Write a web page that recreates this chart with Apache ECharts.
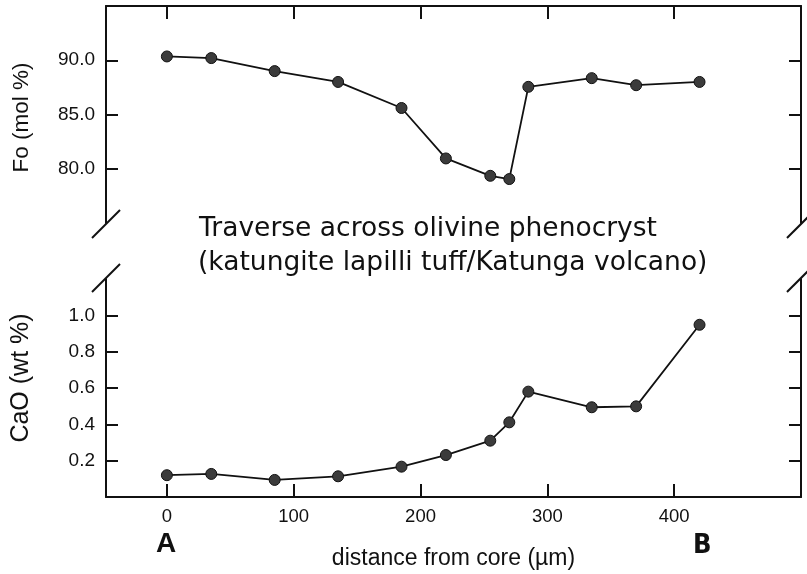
<!DOCTYPE html>
<html>
<head>
<meta charset="utf-8">
<script src="https://cdn.jsdelivr.net/npm/echarts@6/dist/echarts.min.js"></script>
<style>
  html, body { margin: 0; padding: 0; background: #fff; }
  #chart { width: 807px; height: 574px; }
</style>
</head>
<body>
<div id="chart"></div>
<script>
// distance along the traverse (µm), same points for both profiles
var distance = [0, 35, 85, 135, 185, 220, 255, 270, 285, 335, 370, 420];
// forsterite content (mol %)
var foValues = [90.35, 90.2, 89.0, 88.0, 85.6, 80.95, 79.35, 79.05, 87.55, 88.35, 87.7, 88.0];
// CaO content (wt %)
var caoValues = [0.12, 0.127, 0.094, 0.114, 0.167, 0.231, 0.31, 0.411, 0.58, 0.494, 0.499, 0.948];
// tick labels
var xTicks = [0, 100, 200, 300, 400];
var foTicks = [80, 85, 90];
var caoTicks = [0.2, 0.4, 0.6, 0.8, 1.0];

var ink = "#111";
var labelFont = "Liberation Sans";

function pairs(xs, ys) {
  return xs.map(function (x, i) { return [x, ys[i]]; });
}

var chart = echarts.init(document.getElementById("chart"), null, { renderer: "canvas" });

// x axis shared settings
function xAxisBase(gridIndex, pos, showLabel) {
  return {
    type: "value",
    gridIndex: gridIndex,
    position: pos,
    min: -48,
    max: 500,
    axisLine: { show: true, onZero: false, lineStyle: { color: ink, width: 2 } },
    axisTick: { show: true, inside: true, length: 13, customValues: xTicks, lineStyle: { color: ink, width: 2 } },
    axisLabel: { show: showLabel, customValues: xTicks, color: ink, fontSize: 18.5, fontFamily: labelFont, margin: 10 },
    splitLine: { show: false }
  };
}

// y axis settings (left with labels, right only ticks)
function yAxisBase(gridIndex, pos, min, max, ticks, showLabel) {
  return {
    type: "value",
    gridIndex: gridIndex,
    position: pos,
    min: min,
    max: max,
    axisLine: { show: true, onZero: false, lineStyle: { color: ink, width: 2 } },
    axisTick: { show: true, inside: true, length: 12, customValues: ticks, lineStyle: { color: ink, width: 2 } },
    axisLabel: {
      show: showLabel,
      customValues: ticks,
      color: ink,
      fontSize: 19,
      fontFamily: labelFont,
      margin: 11,
      formatter: function (v) { return v.toFixed(1); }
    },
    splitLine: { show: false }
  };
}

var xTop = xAxisBase(0, "top", false);
var xBottom = xAxisBase(1, "bottom", true);
xBottom.name = "distance from core (µm)";
xBottom.nameLocation = "middle";
xBottom.nameGap = 50;
xBottom.nameTextStyle = { color: ink, fontSize: 23, fontFamily: labelFont };

var yFo = yAxisBase(0, "left", 75, 95, foTicks, true);
yFo.name = "Fo (mol %)";
yFo.nameLocation = "middle";
yFo.nameGap = 73;
yFo.nameTextStyle = { color: ink, fontSize: 22.5, fontFamily: labelFont, padding: [0, 6, 0, 0] };

var yCao = yAxisBase(1, "left", 0, 1.2, caoTicks, true);
yCao.name = "CaO (wt %)";
yCao.nameLocation = "middle";
yCao.nameGap = 72;
yCao.nameTextStyle = { color: ink, fontSize: 25, fontFamily: labelFont, padding: [0, 0, 0, 20] };

// axis break marks
function slash(cx, cy) {
  return {
    type: "line",
    shape: { x1: cx - 14, y1: cy + 14, x2: cx + 14, y2: cy - 14 },
    style: { stroke: ink, lineWidth: 2 },
    z: 10
  };
}

var pointStyle = {
  type: "line",
  symbol: "circle",
  symbolSize: 11,
  lineStyle: { color: ink, width: 1.8 },
  itemStyle: { color: "#3b3b3b", borderColor: "#111", borderWidth: 1 },
  emphasis: { disabled: true }
};

chart.setOption({
  animation: false,
  grid: [
    { left: 106, right: 6, top: 6, height: 217 },
    { left: 106, right: 6, top: 279, height: 218 }
  ],
  xAxis: [xTop, xBottom],
  yAxis: [
    yFo,
    yAxisBase(0, "right", 75, 95, foTicks, false),
    yCao,
    yAxisBase(1, "right", 0, 1.2, caoTicks, false)
  ],
  series: [
    Object.assign({ name: "Fo", xAxisIndex: 0, yAxisIndex: 0, data: pairs(distance, foValues) }, pointStyle),
    Object.assign({ name: "CaO", xAxisIndex: 1, yAxisIndex: 2, data: pairs(distance, caoValues) }, pointStyle)
  ],
  graphic: [
    slash(106, 224),
    slash(106, 278),
    slash(801, 224),
    slash(801, 278),
    {
      type: "text",
      left: 199,
      top: 216,
      style: { text: "Traverse across olivine phenocryst", fill: ink, font: "26.5px 'DejaVu Sans'" }
    },
    {
      type: "text",
      left: 198,
      top: 250,
      style: { text: "(katungite lapilli tuff/Katunga volcano)", fill: ink, font: "26.5px 'DejaVu Sans'" }
    },
    {
      type: "text",
      left: 156,
      top: 530,
      style: { text: "A", fill: ink, font: "bold 28px 'Liberation Sans'" }
    },
    {
      type: "text",
      left: 693,
      top: 532,
      style: { text: "B", fill: ink, font: "bold 27px 'DejaVu Sans Condensed'" }
    }
  ]
});
</script>
</body>
</html>
